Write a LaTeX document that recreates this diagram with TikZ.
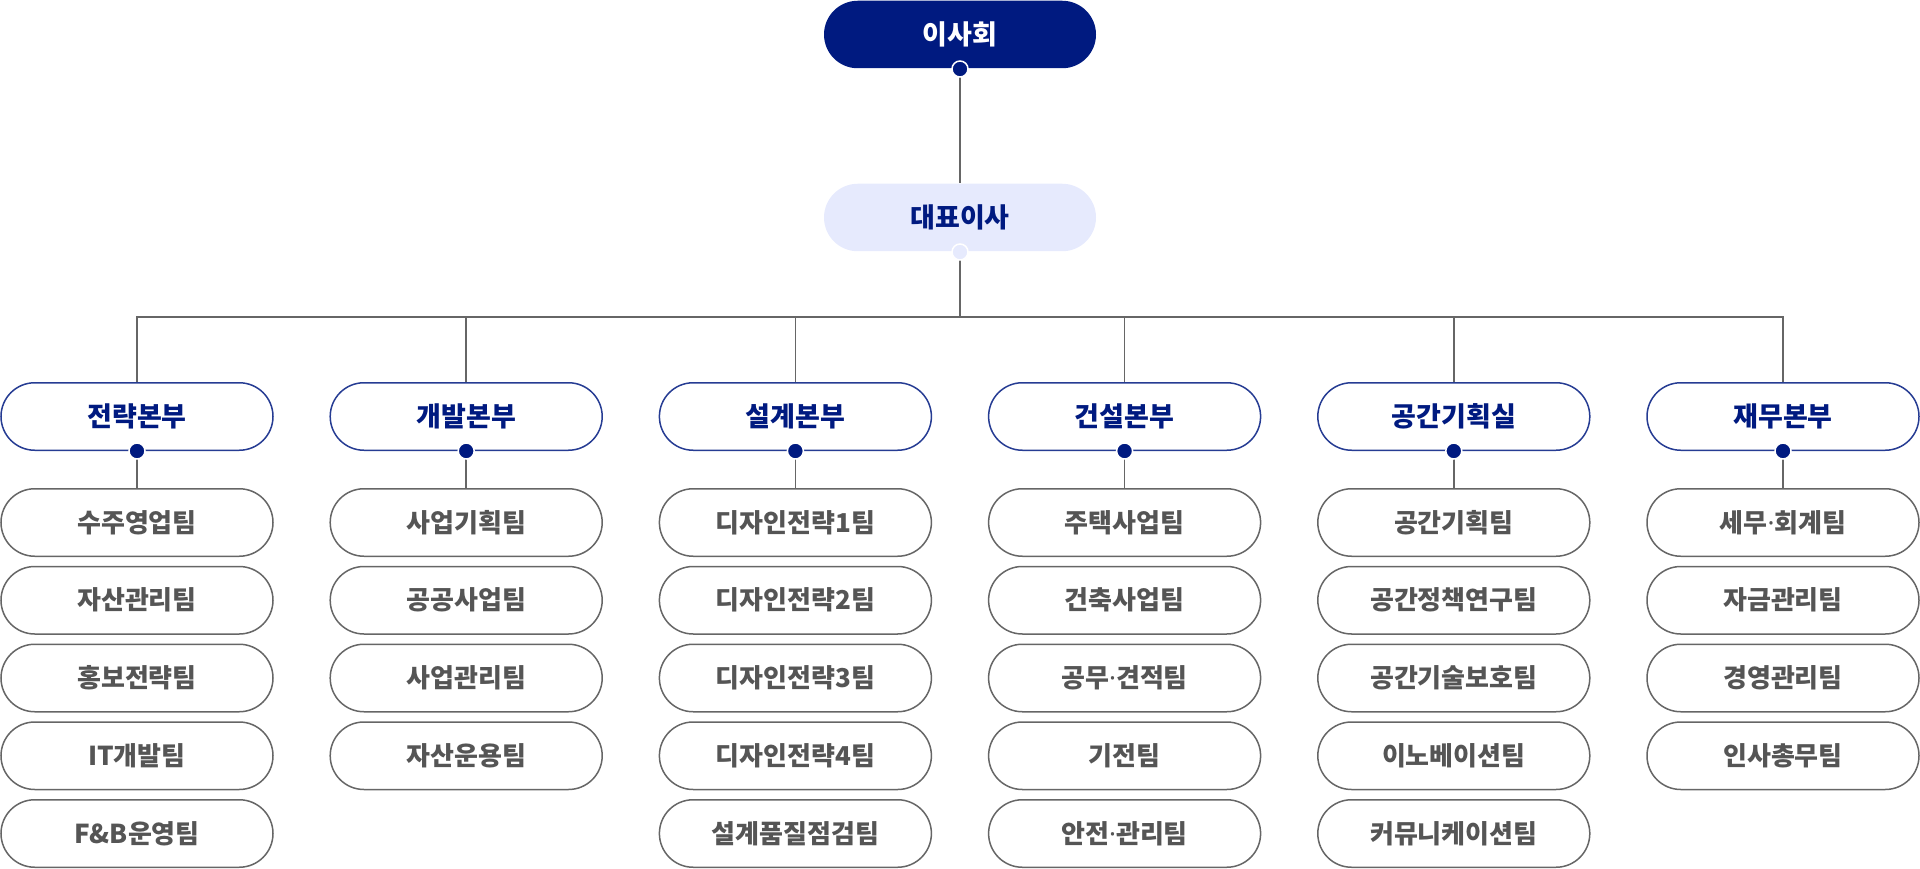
\documentclass[tikz,border=0pt]{standalone}
\usepackage{fontspec}
\setmainfont{Noto Sans CJK KR}
\newfontfamily\latinfont{Noto Sans}
\newcommand{\middot}{{\latinfont\bfseries ·}}
\usepackage{tikz}
\usetikzlibrary{positioning}
\definecolor{navy}{HTML}{001A80}
\definecolor{lavender}{HTML}{E6EAFD}
\definecolor{edgegray}{HTML}{666666}
\definecolor{textgray}{HTML}{555555}
\tikzset{font=\bfseries}
\tikzset{pill/.style={minimum width=272pt,minimum height=67.5pt,inner sep=0pt,
    rounded corners=33.75pt,line width=1.5pt,font=\fontsize{27}{32}\selectfont\bfseries}}
\tikzset{boardbox/.style={pill,fill=navy,text=white}}
\tikzset{ceobox/.style={pill,fill=lavender,text=navy}}
\tikzset{divbox/.style={pill,draw=navy!85!white,fill=white,text=navy}}
\tikzset{teambox/.style={pill,draw=edgegray,fill=white,text=textgray,
    font=\fontsize{26}{31}\selectfont\bfseries}}
\tikzset{link/.style={draw=edgegray,line width=1.5pt}}

\begin{document}
\begin{tikzpicture}[x=1pt,y=-1pt]
  \useasboundingbox (0,0) rectangle (1920,869);
  \node[boardbox] (board) at (960,34.5) {이사회};
  \node[ceobox] (ceo) at (960,217.5) {대표이사};
  \coordinate (bus) at (960,317);
  \draw[link] (board.south)--(ceo.north);
  \draw[link] (ceo.south)--(bus);
  \foreach \i/\head/\teams in {
      0/전략본부/{수주영업팀,자산관리팀,홍보전략팀,IT개발팀,F\&B운영팀},
      1/개발본부/{사업기획팀,공공사업팀,사업관리팀,자산운용팀},
      2/설계본부/{디자인전략1팀,디자인전략2팀,디자인전략3팀,디자인전략4팀,설계품질점검팀},
      3/건설본부/{주택사업팀,건축사업팀,공무\middot 견적팀,기전팀,안전\middot 관리팀},
      4/공간기획실/{공간기획팀,공간정책연구팀,공간기술보호팀,이노베이션팀,커뮤니케이션팀},
      5/재무본부/{세무\middot 회계팀,자금관리팀,경영관리팀,인사총무팀}}{
    \node[divbox] (div\i) at (137+329.2*\i,416.5) {\head};
    \draw[link] (bus) -| (div\i.north);
    \foreach \t [count=\j] in \teams {
      \node[teambox] (team\i-\j) at (137+329.2*\i,522.5+77.75*\j-77.75) {\t};
    };
    \draw[link] (div\i.south)--(team\i-1.north);
    \filldraw[fill=navy,draw=white,line width=1.5pt] (div\i.south) circle (8pt);
  };
  \filldraw[fill=navy,draw=white,line width=1.5pt] (board.south) circle (8pt);
  \filldraw[fill=lavender,draw=white,line width=1.5pt] (ceo.south) circle (8pt);
\end{tikzpicture}
\end{document}
